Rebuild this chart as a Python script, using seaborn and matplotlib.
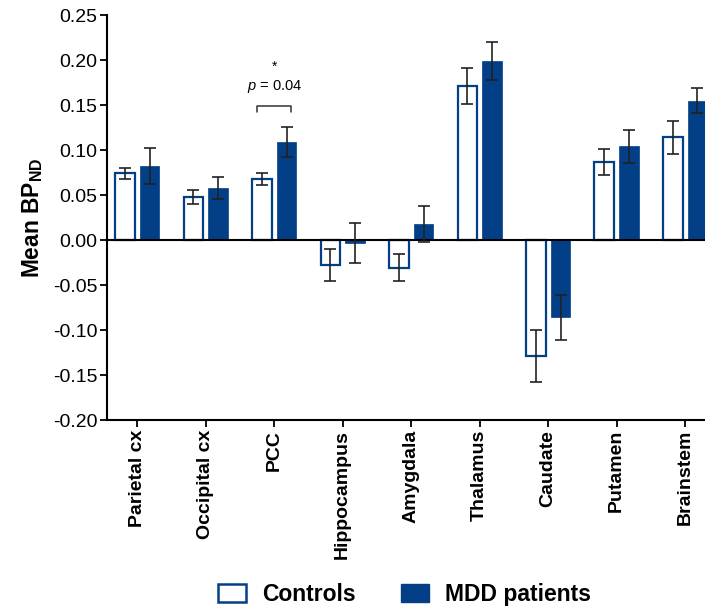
import matplotlib
matplotlib.use("Agg")
import matplotlib.pyplot as plt
import seaborn as sns
import pandas as pd
import numpy as np
from matplotlib.patches import Patch

regions = ["Parietal cx", "Occipital cx", "PCC", "Hippocampus", "Amygdala",
           "Thalamus", "Caudate", "Putamen", "Brainstem"]
groups = ["Controls", "MDD patients"]
controls_mean = [0.074, 0.048, 0.068, -0.028, -0.031, 0.171, -0.129, 0.087, 0.114]
controls_err = [0.0065, 0.0076, 0.0067, 0.0178, 0.015, 0.020, 0.029, 0.0147, 0.018]
mdd_mean = [0.082, 0.058, 0.109, -0.003, 0.018, 0.199, -0.086, 0.104, 0.155]
mdd_err = [0.020, 0.0125, 0.017, 0.022, 0.020, 0.021, 0.025, 0.018, 0.014]
yticks = [-0.20, -0.15, -0.10, -0.05, 0.00, 0.05, 0.10, 0.15, 0.20, 0.25]

sns.set_style("white")
plt.rcParams['font.family'] = ['Liberation Sans', 'DejaVu Sans']
plt.rcParams['mathtext.fontset'] = 'custom'
plt.rcParams['mathtext.rm'] = 'Liberation Sans'
plt.rcParams['mathtext.it'] = 'Liberation Sans:italic'
plt.rcParams['mathtext.bf'] = 'Liberation Sans:bold'
plt.rcParams['text.color'] = 'black'
plt.rcParams['axes.labelcolor'] = 'black'
plt.rcParams['xtick.color'] = 'black'
plt.rcParams['ytick.color'] = 'black'

blue = "#033f87"

df = pd.DataFrame({
    "region": regions * 2,
    "group": [groups[0]] * len(regions) + [groups[1]] * len(regions),
    "value": controls_mean + mdd_mean,
    "err": controls_err + mdd_err,
})

fig = plt.figure(figsize=(7.05, 6.09), dpi=100)
ax = fig.add_axes([0.152, 0.3103, 0.848, 0.665])

sns.barplot(data=df, x="region", y="value", hue="group", order=regions,
            hue_order=groups, palette=["white", blue], saturation=1,
            width=0.72, gap=0.2, errorbar=None, legend=False, ax=ax)

n = len(regions)
for i, p in enumerate(ax.patches[:2 * n]):
    gi = i // n
    ri = i % n
    p.set_edgecolor(blue)
    p.set_linewidth(1.6 if gi == 0 else 0.5)
    cx = p.get_x() + p.get_width() / 2
    m = controls_mean[ri] if gi == 0 else mdd_mean[ri]
    e = controls_err[ri] if gi == 0 else mdd_err[ri]
    ax.errorbar(cx, m, yerr=e, fmt="none", ecolor="#222222", elinewidth=1.2,
                capsize=4, capthick=1.2, zorder=5)

ax.axhline(0, color="black", lw=1.5, zorder=4)
ax.set_ylim(-0.20, 0.25)
ax.set_xlim(-0.44, 8.29)
ax.set_yticks(yticks)
ax.set_yticklabels([f"{t:.2f}" for t in yticks], fontsize=14)
ax.set_xticks(range(n))
ax.set_xticklabels(regions, rotation=90, fontsize=14, fontweight="bold")
ax.set_xlabel("")
ax.set_ylabel(r"Mean BP$_{\mathbf{ND}}$", fontsize=16.4, fontweight="bold", labelpad=6)
sns.despine(ax=ax)
for s in ["left", "bottom"]:
    ax.spines[s].set_linewidth(1.5)
    ax.spines[s].set_color("black")
ax.tick_params(axis="both", direction="out", length=5, width=1.3, color="black",
               left=True, bottom=True, pad=2)

# significance annotation on PCC
pcc = regions.index("PCC")
pc = ax.patches[:2 * n]
x1 = pc[pcc].get_x() + pc[pcc].get_width() / 2 - 0.07
x2 = pc[n + pcc].get_x() + pc[n + pcc].get_width() / 2 + 0.07
yb = 0.149
ax.plot([x1, x1, x2, x2], [yb - 0.007, yb, yb, yb - 0.007], color="#333333", lw=1.1)
ax.text((x1 + x2) / 2, yb + 0.012, r"$\it{p}$ = 0.04", ha="center", va="bottom", fontsize=10.5)
ax.text((x1 + x2) / 2, yb + 0.036, "*", ha="center", va="bottom", fontsize=10)

handles = [Patch(facecolor="white", edgecolor=blue, linewidth=1.8),
           Patch(facecolor=blue, edgecolor=blue)]
fig.legend(handles, groups, loc="center", bbox_to_anchor=(0.574, 0.024), ncol=2,
           frameon=False, handlelength=1.2, handleheight=0.85, columnspacing=2.0,
           handletextpad=0.7, borderpad=0.2, prop={"weight": "bold", "size": 16.5})

fig.savefig("out.png", dpi=100)
